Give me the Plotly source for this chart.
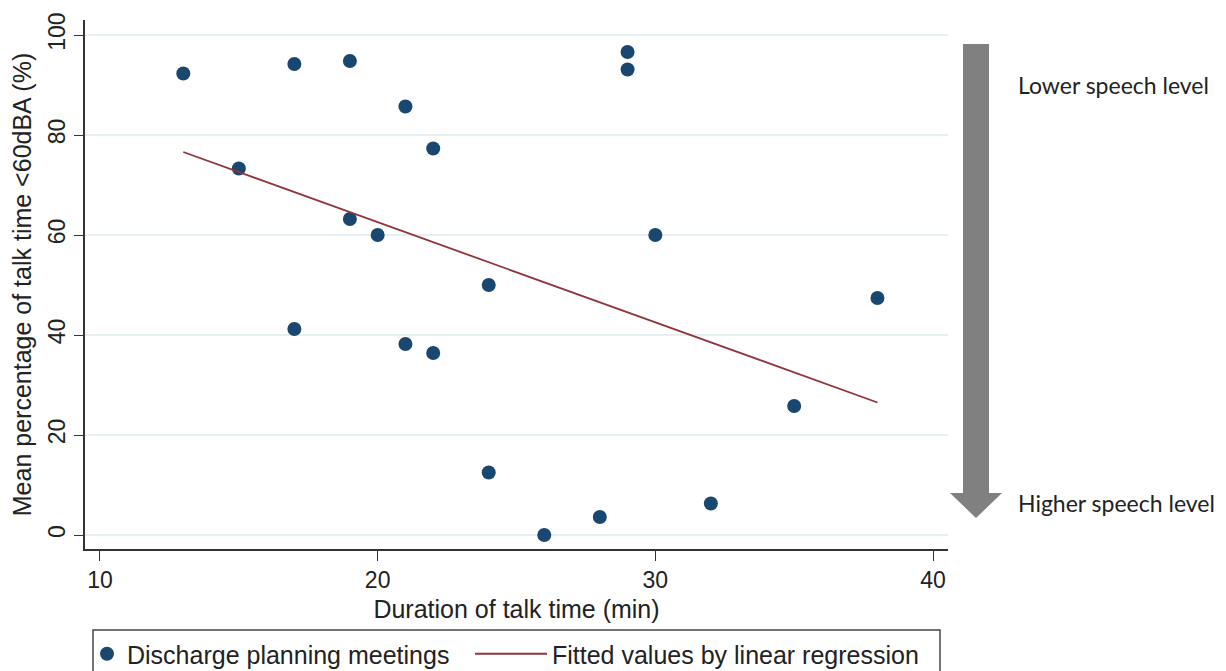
import plotly.graph_objects as go

# ---- data ----
duration = [13, 15, 17, 17, 19, 19, 20, 21, 21, 22, 22, 24, 24, 26, 28, 29, 29, 30, 32, 35, 38]
pct_below_60 = [92.3, 73.3, 94.2, 41.2, 94.8, 63.2, 60.0, 85.7, 38.2, 77.3, 36.4, 50.0, 12.5,
                0.0, 3.6, 96.6, 93.1, 60.0, 6.3, 25.8, 47.4]
fit_x = [13, 38]
fit_y = [76.6, 26.5]
x_ticks = [10, 20, 30, 40]
y_ticks = [0, 20, 40, 60, 80, 100]

W, H = 1226, 671
OFF = 8  # page body margin offset
L, R, T, B = 85, 948, 20, 549  # plot area in screenshot px


def px(xp):
    return (xp - L) / (R - L)


def py(yp):
    return (B - yp) / (B - T)


fig = go.Figure()
fig.add_trace(go.Scatter(
    x=duration, y=pct_below_60, mode="markers",
    name="Discharge planning meetings",
    marker=dict(size=14, color="#1a476f"),
    legend="legend",
))
fig.add_trace(go.Scatter(
    x=fit_x, y=fit_y, mode="lines",
    name="Fitted values by linear regression",
    line=dict(color="#90353b", width=1.8),
    legend="legend2",
))

axis_font = dict(family="Liberation Sans, Arial, sans-serif", size=23, color="#222")
title_font = dict(family="Liberation Sans, Arial, sans-serif", size=25, color="#222")

fig.update_layout(
    width=W, height=H,
    margin=dict(l=L - OFF, r=W - (R - OFF), t=T - OFF, b=H - (B - OFF), autoexpand=False),
    paper_bgcolor="white", plot_bgcolor="white",
    showlegend=True,
    xaxis=dict(
        range=[9.46, 40.54], tickvals=x_ticks, ticktext=[str(v) for v in x_ticks],
        showgrid=False, zeroline=False, showline=True, linecolor="#333", linewidth=1.5,
        ticks="outside", ticklen=10, tickwidth=1.2, tickcolor="#333",
        tickfont=axis_font,
        title=dict(text="Duration of talk time (min)", font=title_font, standoff=8),
    ),
    yaxis=dict(
        range=[-2.8, 103], tickvals=y_ticks, ticktext=[str(v) for v in y_ticks],
        showgrid=True, gridcolor="#e6eff1", gridwidth=1.5,
        zeroline=False, showline=True, linecolor="#333", linewidth=1.5,
        ticks="outside", ticklen=9, tickwidth=1.2, tickcolor="#333",
        tickangle=-90, tickfont=axis_font,
        title=dict(text="Mean percentage of talk time <60dBA (%)", font=title_font, standoff=6),
    ),
    legend=dict(
        orientation="h", x=px(87), y=py(631), xanchor="left", yanchor="top",
        font=title_font, bgcolor="rgba(0,0,0,0)", borderwidth=0, itemwidth=30,
    ),
    legend2=dict(
        orientation="h", x=px(470), y=py(631), xanchor="left", yanchor="top",
        font=title_font, bgcolor="rgba(0,0,0,0)", borderwidth=0, itemwidth=72,
    ),
)

shapes = []
# legend box (extends beyond bottom edge like the reference)
shapes.append(dict(type="rect", xref="paper", yref="paper",
                   x0=px(93), x1=px(940), y0=py(630), y1=py(700),
                   line=dict(color="#444", width=1.5), fillcolor="rgba(0,0,0,0)"))
# gray arrow (decoration)
path = (f"M{px(963)},{py(44)} L{px(989)},{py(44)} L{px(989)},{py(493)} "
        f"L{px(1002)},{py(493)} L{px(976)},{py(518)} L{px(950)},{py(493)} "
        f"L{px(963)},{py(493)} Z")
shapes.append(dict(type="path", xref="paper", yref="paper", path=path,
                   fillcolor="#808080", line=dict(width=0)))
fig.update_layout(shapes=shapes)

ann_font = dict(family="Lato, Open Sans, sans-serif", size=23, color="#222")
fig.add_annotation(text="Lower speech level", xref="paper", yref="paper",
                   x=px(1016), y=py(85), xanchor="left", yanchor="middle",
                   showarrow=False, font=ann_font)
fig.add_annotation(text="Higher speech level", xref="paper", yref="paper",
                   x=px(1016), y=py(503), xanchor="left", yanchor="middle",
                   showarrow=False, font=ann_font)

fig.write_html("out.html")
